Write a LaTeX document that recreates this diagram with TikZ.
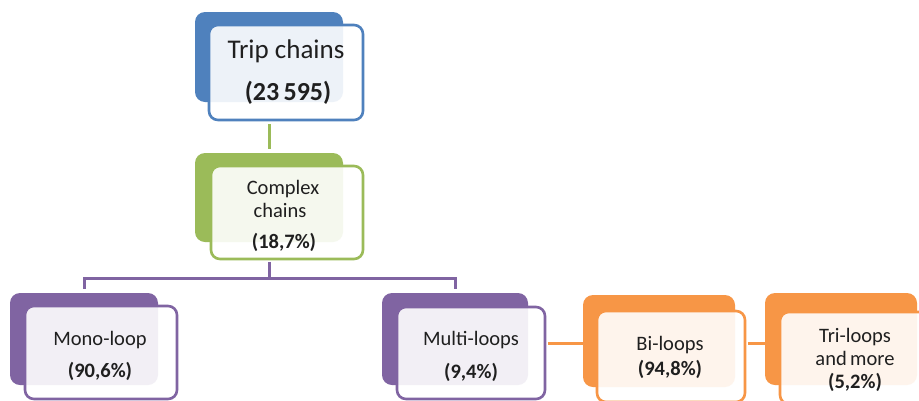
\documentclass[tikz,border=0pt]{standalone}
\usepackage{fontspec}
\setmainfont{Carlito}
\definecolor{blueC}{HTML}{4F81BD}
\definecolor{greenC}{HTML}{9BBB59}
\definecolor{purpleC}{HTML}{8064A2}
\definecolor{orangeC}{HTML}{F79646}
\definecolor{txt}{HTML}{1F1F1F}
\tikzset{
  backbox/.style={rounded corners=10pt, fill=#1, draw=none, inner sep=0pt},
  frontbox/.style={rounded corners=9pt, draw=#1, line width=2.6pt, fill=white, fill opacity=0.9, inner sep=0pt},
  conn/.style={draw=#1, line width=3pt},
  lbl/.style={anchor=base, inner sep=0pt, text=txt, font=\fontsize{20.5}{24}\selectfont},
  pct/.style={anchor=base, inner sep=0pt, text=txt, font=\fontsize{20.5}{24}\selectfont\bfseries},
  biglbl/.style={anchor=base, inner sep=0pt, text=txt, font=\fontsize{27}{32}\selectfont},
  bigpct/.style={anchor=base, inner sep=0pt, text=txt, font=\fontsize{26}{32}\selectfont\bfseries},
}
\begin{document}
\begin{tikzpicture}[x=1pt, y=-1pt]
\useasboundingbox (0,0) rectangle (919,400);
\clip (0,0) rectangle (919,400);
\fill[white] (0,0) rectangle (919,400);

% root: all trip chains
\node[backbox=blueC, minimum width=148pt, minimum height=90pt] (tripBack) at (269,57) {};
\node[frontbox=blueC, minimum width=154pt, minimum height=95pt] (tripFront) at (286,72.5) {};
\node[biglbl] (tripA) at (286,58) {Trip chains};
\node[bigpct] (tripB) at (288,100) {(23\,595)};

% complex chains
\node[backbox=greenC, minimum width=148pt, minimum height=89pt] (complexBack) at (269,197.5) {};
\node[frontbox=greenC, minimum width=152pt, minimum height=93pt] (complexFront) at (287,212.5) {};
\node[lbl] (complexA) at (283,194) {Complex};
\node[lbl] (complexB) at (280,217) {chains};
\node[pct] (complexC) at (284,248) {(18,7\%)};

% mono-loop
\node[backbox=purpleC, minimum width=148pt, minimum height=92pt] (monoBack) at (84,339) {};
\node[frontbox=purpleC, minimum width=152pt, minimum height=93pt] (monoFront) at (101,352.5) {};
\node[lbl] (monoA) at (100,345) {Mono-loop};
\node[pct] (monoB) at (100,377) {(90,6\%)};

% multi-loops
\node[backbox=purpleC, minimum width=146pt, minimum height=92pt] (multiBack) at (455,339) {};
\node[frontbox=purpleC, minimum width=148pt, minimum height=92pt] (multiFront) at (471,353) {};
\node[lbl] (multiA) at (471,345) {Multi-loops};
\node[pct] (multiB) at (471,378) {(9,4\%)};

% bi-loops
\node[backbox=orangeC, minimum width=152pt, minimum height=92pt] (biBack) at (659,341) {};
\node[frontbox=orangeC, minimum width=148pt, minimum height=91pt] (biFront) at (671,356.5) {};
\node[lbl] (biA) at (670,350) {Bi-loops};
\node[pct] (biB) at (670,375) {(94,8\%)};

% tri-loops and more
\node[backbox=orangeC, minimum width=152pt, minimum height=92pt] (triBack) at (841,339) {};
\node[frontbox=orangeC, minimum width=150pt, minimum height=92pt] (triFront) at (855,358) {};
\node[lbl] (triA) at (855,342) {Tri-loops};
\node[lbl] (triB) at (855,365) {and\,more};
\node[pct] (triC) at (855,388) {(5,2\%)};

% connectors
\draw[conn=greenC] (tripBack.south |- tripFront.south) ++(0,3) -- ([yshift=4pt]complexBack.north);
\draw[conn=purpleC] (complexBack.south |- complexFront.south) ++(0,1.5) -- ++(0,16.5) coordinate (split);
\draw[conn=purpleC] (split) -| ([yshift=4pt]monoBack.north);
\draw[conn=purpleC] (split) -| ([yshift=4pt]multiBack.north);
\coordinate (orangeY) at (0,343);
\draw[conn=orangeC] ([xshift=1.5pt]multiFront.east |- orangeY) -- (biBack.west |- orangeY);
\draw[conn=orangeC] ([xshift=1.5pt]biFront.east |- orangeY) -- (triBack.west |- orangeY);
\end{tikzpicture}
\end{document}
